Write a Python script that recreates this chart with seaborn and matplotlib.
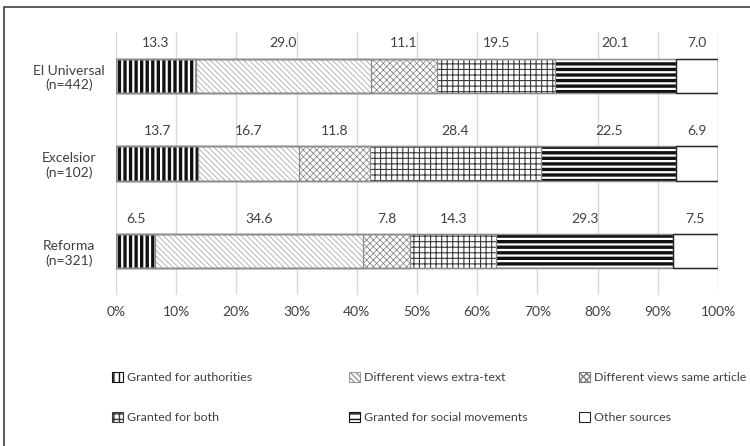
import matplotlib
matplotlib.use("Agg")
import matplotlib.pyplot as plt
from matplotlib.patches import Patch, Rectangle
import numpy as np
import pandas as pd
import seaborn as sns

# --- data -------------------------------------------------------------
outlets = ["El Universal\n(n=442)", "Excelsior\n(n=102)", "Reforma\n(n=321)"]
series_names = [
    "Granted for authorities",
    "Different views extra-text",
    "Different views same article",
    "Granted for both",
    "Granted for social movements",
    "Other sources",
]
authorities = [13.3, 13.7, 6.5]
extra_text = [29.0, 16.7, 34.6]
same_article = [11.1, 11.8, 7.8]
both = [19.5, 28.4, 14.3]
social_movements = [20.1, 22.5, 29.3]
other_sources = [7.0, 6.9, 7.5]
x_ticks = [0, 10, 20, 30, 40, 50, 60, 70, 80, 90, 100]
x_tick_labels = [f"{t}%" for t in x_ticks]

series_values = [authorities, extra_text, same_article, both,
                 social_movements, other_sources]

# --- styles per series: (hatch, hatch colour, hatch linewidth) -------
styles = [
    ("|||", "#111111", 2.4),
    ("\\\\\\\\\\\\", "#9a9a9a", 0.5),
    ("xxxxx", "#7a7a7a", 0.5),
    ("+++", "#3a3a3a", 0.8),
    ("---", "#111111", 2.4),
    ("", "#262626", 1.0),
]
edge_gray = "#8c8c8c"
text_color = "#404040"
fs = 10.0
legend_fs = 8.9

sns.set_theme(style="white")
plt.rcParams["font.family"] = ["Lato", "DejaVu Sans"]
plt.rcParams["text.color"] = text_color

fig = plt.figure(figsize=(7.5, 4.46), dpi=100)
ax = fig.add_axes([116 / 750, 1 - 295 / 446, (718 - 116) / 750, (295 - 32) / 446])

# stacked bars: cumulative widths drawn back to front
cum = np.cumsum(np.array(series_values), axis=0)
bar_height = 0.39
for i in range(len(series_names) - 1, -1, -1):
    df = pd.DataFrame({"outlet": outlets, "cum": cum[i]})
    hatch, hcolor, hlw = styles[i]
    before = len(ax.patches)
    sns.barplot(data=df, x="cum", y="outlet", orient="h", ax=ax,
                color="white", width=bar_height, saturation=1,
                edgecolor=hcolor, linewidth=0, hatch=hatch or None)
    for p in ax.patches[before:]:
        p.set_facecolor("white")
        if hasattr(p, "set_hatch_linewidth"):
            p.set_hatch_linewidth(hlw)
        p.set_zorder(2 + (len(series_names) - i) * 0.01)

bars = list(ax.patches)
n = len(outlets)
# outlines for every stacked segment boundary
for p in bars:
    ax.add_patch(Rectangle((p.get_x(), p.get_y()), p.get_width(), p.get_height(),
                           fill=False, edgecolor=edge_gray, linewidth=0.9, zorder=3))
# darker box round the final segment
full_bars = bars[:n]
prev_bars = bars[n:2 * n]
for pf, pp in zip(full_bars, prev_bars):
    x0 = pp.get_x() + pp.get_width()
    ax.add_patch(Rectangle((x0, pf.get_y()), pf.get_x() + pf.get_width() - x0,
                           pf.get_height(), fill=False, edgecolor="#262626",
                           linewidth=1.0, zorder=3.1))

# value labels centred over each segment
starts = np.vstack([np.zeros(n), cum[:-1]])
for i, vals in enumerate(series_values):
    for j, v in enumerate(vals):
        ax.text(starts[i][j] + v / 2, j - 0.37, f"{v:.1f}", ha="center",
                va="center", fontsize=fs, color=text_color, zorder=4)

ax.set_xlim(0, 100)
ax.set_ylim(2.5, -0.5)
ax.set_xticks(x_ticks)
ax.set_xticklabels(x_tick_labels, fontsize=fs, color=text_color)
ax.tick_params(axis="y", labelsize=fs, labelcolor=text_color, length=0)
ax.tick_params(axis="x", length=0, pad=8)
for lab in ax.get_yticklabels():
    lab.set_horizontalalignment("center")
ax.tick_params(axis="y", pad=34)
ax.set_xlabel("")
ax.set_ylabel("")
ax.grid(axis="x", color="#d9d9d9", linewidth=1)
ax.set_axisbelow(True)
for s in ax.spines.values():
    s.set_visible(False)

# legend: three columns, two rows
handles = []
for name, (hatch, hcolor, hlw) in zip(series_names, styles):
    h = Patch(facecolor="white", edgecolor=hcolor if hatch else "#262626",
              hatch=hatch or None, linewidth=0.8, label=name)
    handles.append(h)

col_x = [112 / 750, 349 / 750, 579 / 750]
for c in range(3):
    leg = fig.legend(handles=[handles[c], handles[c + 3]], loc="upper left",
                     bbox_to_anchor=(col_x[c], 1 - 372 / 446), ncol=1,
                     frameon=False, fontsize=legend_fs, handlelength=0.85,
                     handleheight=0.85, handletextpad=0.35, labelspacing=2.35,
                     borderaxespad=0, borderpad=0)
    for t in leg.get_texts():
        t.set_color(text_color)

# outer frame
fig.patches.append(Rectangle((4 / 750, -0.2), 1.2, 1.2 - 7 / 446,
                             transform=fig.transFigure, fill=False,
                             edgecolor="#404040", linewidth=1.2, zorder=10))

fig.savefig("out.png", dpi=100)
